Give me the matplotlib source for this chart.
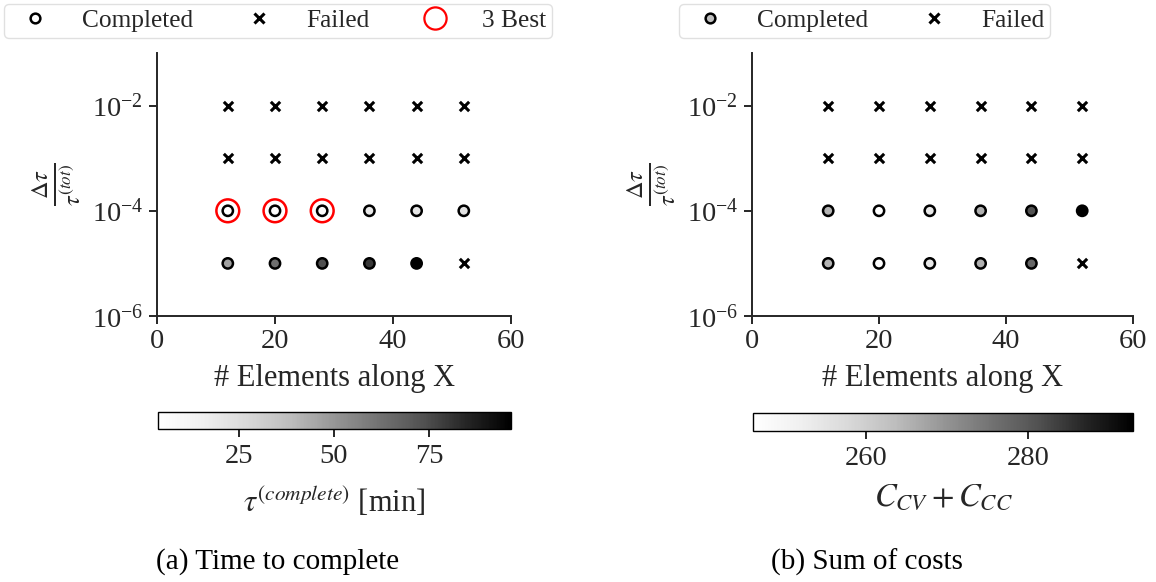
import numpy as np
import matplotlib
matplotlib.use("Agg")
import matplotlib.pyplot as plt
from matplotlib.lines import Line2D
from matplotlib.colors import Normalize

# Mesh refinement (number of elements along X) and relative time step sizes
elements = [12, 20, 28, 36, 44, 52]
timesteps = [1e-2, 1e-3, 1e-4, 1e-5]

# Wall-clock time to complete [min]; NaN marks a failed run
time_dt_1e2 = [np.nan] * 6
time_dt_1e3 = [np.nan] * 6
time_dt_1e4 = [3.7, 4.5, 5.5, 19.0, 20.5, 22.0]
time_dt_1e5 = [47.0, 63.0, 74.0, 80.0, 96.6, np.nan]

# Sum of costs C_CV + C_CC; NaN marks a failed run
cost_dt_1e2 = [np.nan] * 6
cost_dt_1e3 = [np.nan] * 6
cost_dt_1e4 = [265.0, 246.0, 254.0, 265.5, 281.0, 293.0]
cost_dt_1e5 = [265.0, 246.5, 254.0, 265.5, 277.7, np.nan]

time_ticks = [25, 50, 75]
cost_ticks = [260, 280]

TEXT = "#262626"
plt.rcParams.update({
    "font.family": "serif",
    "font.serif": ["Liberation Serif", "DejaVu Serif"],
    "mathtext.fontset": "stix",
    "font.size": 20.5,
    "axes.labelsize": 22,
    "legend.fontsize": 18.3,
    "text.color": TEXT,
    "axes.labelcolor": TEXT,
    "xtick.color": TEXT,
    "ytick.color": TEXT,
    "axes.edgecolor": TEXT,
    "axes.linewidth": 1.4,
    "xtick.major.width": 1.4,
    "ytick.major.width": 1.4,
    "xtick.major.size": 6,
    "ytick.major.size": 6,
    "xtick.major.pad": 3.5,
    "ytick.major.pad": 4,
})

W, H = 1156, 582
fig = plt.figure(figsize=(W / 100, H / 100), dpi=100)


def grid(rows):
    xs, ys, vs = [], [], []
    for dt, row in zip(timesteps, rows):
        for n, v in zip(elements, row):
            xs.append(n)
            ys.append(dt)
            vs.append(v)
    return np.array(xs, float), np.array(ys, float), np.array(vs, float)


def panel(ax_rect, cax_rect, rows, ticks, clabel, clabelsize, clabelpad,
          mark_best):
    ax = fig.add_axes(ax_rect)
    xs, ys, vs = grid(rows)
    ok = ~np.isnan(vs)
    norm = Normalize(vmin=np.nanmin(vs), vmax=np.nanmax(vs))
    sc = ax.scatter(xs[ok], ys[ok], c=vs[ok], cmap="Greys", norm=norm,
                    s=55, edgecolors="black", linewidths=1.8, zorder=3)
    ax.scatter(xs[~ok], ys[~ok], marker="x", color="black", s=45,
               linewidths=2.2, zorder=3)
    if mark_best:
        order = np.argsort(np.where(ok, vs, np.inf))[:3]
        ax.scatter(xs[order], ys[order], s=270, facecolors="none",
                   edgecolors="red", linewidths=1.8, zorder=2)
    ax.set_yscale("log")
    ax.set_ylim(1e-6, 1e-1)
    ax.set_xlim(0, 60)
    ax.set_yticks([1e-6, 1e-4, 1e-2])
    ax.yaxis.set_minor_locator(matplotlib.ticker.NullLocator())
    ax.set_xticks([0, 20, 40, 60])
    for s in ("top", "right"):
        ax.spines[s].set_visible(False)
    ax.set_xlabel("# Elements along X", labelpad=7)
    ax.set_ylabel(r"$\frac{\Delta\tau}{\tau^{(tot)}}$", fontsize=25, labelpad=6)

    cax = fig.add_axes(cax_rect)
    cb = fig.colorbar(sc, cax=cax, orientation="horizontal")
    cb.set_ticks(ticks)
    cb.outline.set_linewidth(1.0)
    cb.outline.set_edgecolor("black")
    cax.tick_params(axis="x", length=6, width=1.4, pad=5)
    cb.set_label(clabel, fontsize=clabelsize, labelpad=clabelpad)
    return ax


def legend_handles(face, best):
    hs = [Line2D([], [], ls="none", marker="o", ms=7, mfc=face, mec="black",
                 mew=1.8, label="Completed"),
          Line2D([], [], ls="none", marker="x", ms=7, color="black",
                 mew=2.2, label="Failed")]
    if best:
        hs.append(Line2D([], [], ls="none", marker="o", ms=16, mfc="none",
                         mec="red", mew=1.6, label="3 Best"))
    return hs


panel([157 / W, 1 - 316 / H, 354 / W, 263 / H],
      [158 / W, 1 - 429 / H, 353 / W, 17 / H],
      [time_dt_1e2, time_dt_1e3, time_dt_1e4, time_dt_1e5],
      time_ticks, r"$\tau^{(complete)}$ [min]", 22, 11, True)
panel([752 / W, 1 - 316 / H, 381 / W, 263 / H],
      [753 / W, 1 - 431 / H, 380 / W, 18 / H],
      [cost_dt_1e2, cost_dt_1e3, cost_dt_1e4, cost_dt_1e5],
      cost_ticks, r"$C_{CV} + C_{CC}$", 23.5, 8, False)

leg_kw = dict(loc="upper center", frameon=True, handlelength=2.0,
              handletextpad=0.85, columnspacing=1.6, borderpad=0.22,
              borderaxespad=0.0, edgecolor="0.85", fancybox=True)
fig.legend(handles=legend_handles("white", True), ncol=3,
           bbox_to_anchor=(278 / W, 1 - 4 / H), **leg_kw)
fig.legend(handles=legend_handles("#c0c0c0", False), ncol=2,
           bbox_to_anchor=(864.5 / W, 1 - 4 / H), **leg_kw)

fig.text(278 / W, 1 - 562 / H, "(a) Time to complete", ha="center",
         va="center", color="black", fontsize=21)
fig.text(867 / W, 1 - 562 / H, "(b) Sum of costs", ha="center",
         va="center", color="black", fontsize=21)

fig.savefig("out.png", dpi=100)
